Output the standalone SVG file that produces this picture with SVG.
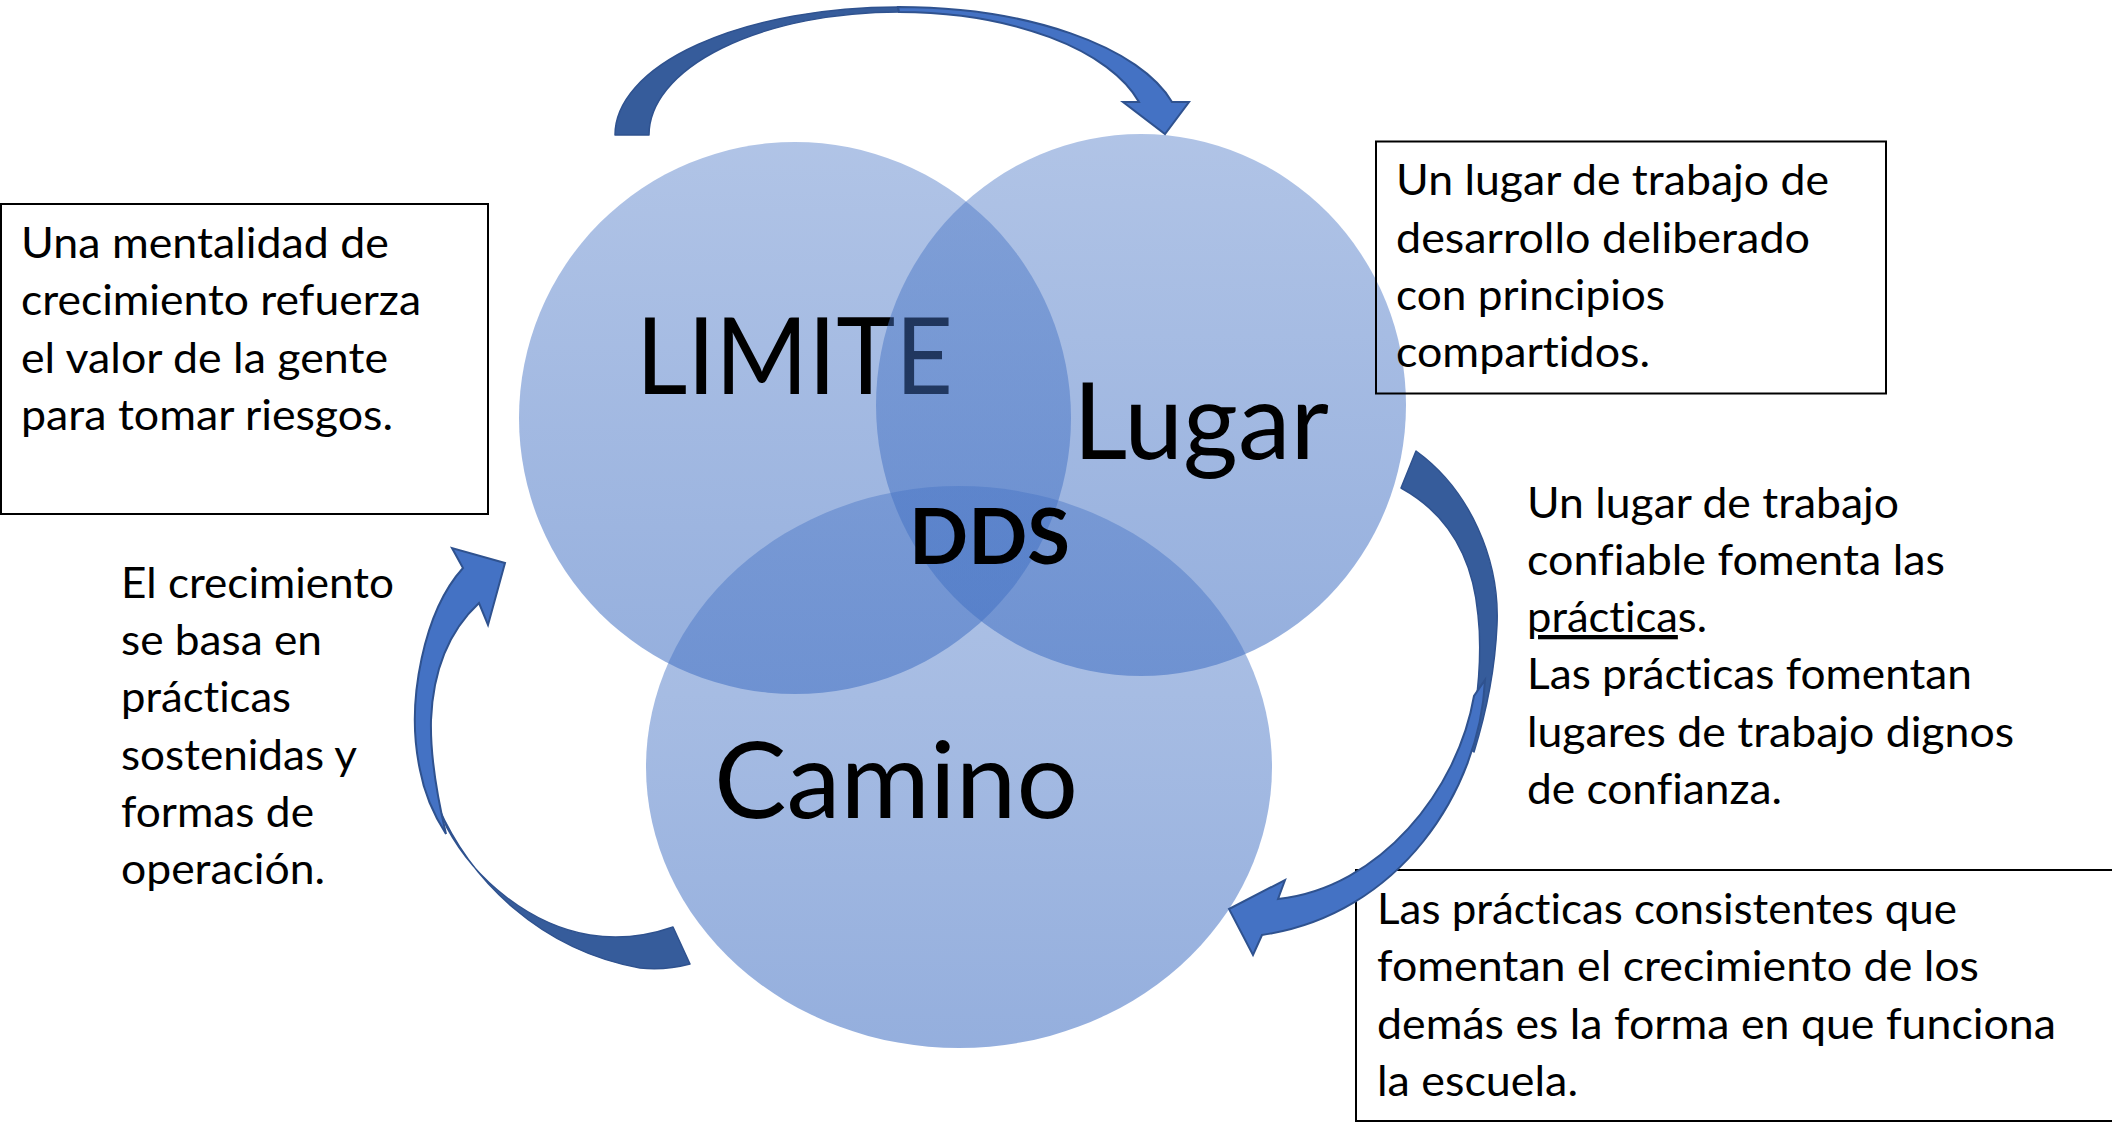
<svg xmlns="http://www.w3.org/2000/svg" width="2112" height="1124" viewBox="0 0 2112 1124">
<defs>
<linearGradient id="venn" x1="0" y1="0" x2="0" y2="1">
<stop offset="0" stop-color="#4472C4" stop-opacity="0.42"/>
<stop offset="1" stop-color="#4472C4" stop-opacity="0.57"/>
</linearGradient>
<style>
text{font-variant-ligatures:none;font-feature-settings:"liga" 0,"clig" 0}
.venn{fill:url(#venn);stroke:none}
.big{font-family:Lato,"Liberation Sans",sans-serif;font-size:106px;fill:#000}
.dds{font-family:Lato,"Liberation Sans",sans-serif;font-size:77px;font-weight:bold;fill:#000}
.t{font-family:Lato,"Liberation Sans",sans-serif;font-size:43px;fill:#000}
.box{fill:none;stroke:#000;stroke-width:2}
.back{fill:#365C9B;stroke:#2F528F;stroke-width:1.5;stroke-linejoin:round}
.front{fill:#4472C4;stroke:#2F528F;stroke-width:2;stroke-linejoin:miter}
</style>
</defs>
<rect width="2112" height="1124" fill="#fff"/>
<g id="node-limite">
<ellipse class="venn" cx="795" cy="418" rx="276" ry="276"/>
<text class="big" x="636" y="394" textLength="317" lengthAdjust="spacingAndGlyphs">LIMITE</text>
</g>
<g id="node-lugar">
<ellipse class="venn" cx="1141" cy="405" rx="265" ry="271"/>
<text class="big" x="1073" y="459" textLength="256" lengthAdjust="spacingAndGlyphs">Lugar</text>
</g>
<g id="node-camino">
<ellipse class="venn" cx="959" cy="767" rx="313" ry="281"/>
<text class="big" x="714" y="818" textLength="364" lengthAdjust="spacingAndGlyphs">Camino</text>
</g>
<g id="node-dds">
<text class="dds" x="909" y="564" textLength="161" lengthAdjust="spacingAndGlyphs">DDS</text>
</g>
<g id="node-mentalidad">
<rect class="box" x="1" y="204" width="487" height="310"/>
<text class="t" x="21" y="258" textLength="368" lengthAdjust="spacingAndGlyphs">Una mentalidad de</text>
<text class="t" x="21" y="315" textLength="400" lengthAdjust="spacingAndGlyphs">crecimiento refuerza</text>
<text class="t" x="21" y="373" textLength="367" lengthAdjust="spacingAndGlyphs">el valor de la gente</text>
<text class="t" x="21" y="430" textLength="372" lengthAdjust="spacingAndGlyphs">para tomar riesgos.</text>
</g>
<g id="node-lugar-trabajo">
<rect class="box" x="1376" y="141.5" width="510" height="252"/>
<text class="t" x="1396" y="195" textLength="433" lengthAdjust="spacingAndGlyphs">Un lugar de trabajo de</text>
<text class="t" x="1396" y="253" textLength="414" lengthAdjust="spacingAndGlyphs">desarrollo deliberado</text>
<text class="t" x="1396" y="310" textLength="269" lengthAdjust="spacingAndGlyphs">con principios</text>
<text class="t" x="1396" y="367" textLength="254" lengthAdjust="spacingAndGlyphs">compartidos.</text>
</g>
<g id="node-confiable">
<text class="t" x="1527" y="518" textLength="372" lengthAdjust="spacingAndGlyphs">Un lugar de trabajo</text>
<text class="t" x="1527" y="575" textLength="418" lengthAdjust="spacingAndGlyphs">confiable fomenta las</text>
<text class="t" x="1527" y="632" textLength="180" lengthAdjust="spacingAndGlyphs"><tspan text-decoration="underline">práctica</tspan>s.</text>
<text class="t" x="1527" y="689" textLength="445" lengthAdjust="spacingAndGlyphs">Las prácticas fomentan</text>
<text class="t" x="1527" y="747" textLength="487" lengthAdjust="spacingAndGlyphs">lugares de trabajo dignos</text>
<text class="t" x="1527" y="804" textLength="255" lengthAdjust="spacingAndGlyphs">de confianza.</text>
</g>
<g id="node-escuela">
<rect class="box" x="1356" y="870" width="780" height="251"/>
<text class="t" x="1377" y="924" textLength="580" lengthAdjust="spacingAndGlyphs">Las prácticas consistentes que</text>
<text class="t" x="1377" y="981" textLength="602" lengthAdjust="spacingAndGlyphs">fomentan el crecimiento de los</text>
<text class="t" x="1377" y="1039" textLength="679" lengthAdjust="spacingAndGlyphs">demás es la forma en que funciona</text>
<text class="t" x="1377" y="1096" textLength="201" lengthAdjust="spacingAndGlyphs">la escuela.</text>
</g>
<g id="node-crecimiento">
<text class="t" x="121" y="598" textLength="273" lengthAdjust="spacingAndGlyphs">El crecimiento</text>
<text class="t" x="121" y="655" textLength="201" lengthAdjust="spacingAndGlyphs">se basa en</text>
<text class="t" x="121" y="712" textLength="170" lengthAdjust="spacingAndGlyphs">prácticas</text>
<text class="t" x="121" y="770" textLength="236" lengthAdjust="spacingAndGlyphs">sostenidas y</text>
<text class="t" x="121" y="827" textLength="193" lengthAdjust="spacingAndGlyphs">formas de</text>
<text class="t" x="121" y="884" textLength="204" lengthAdjust="spacingAndGlyphs">operación.</text>
</g>
<g id="connectors">
<g id="arrow-top">
<path class="back" d="M615,135 A283,128 0 0 1 898,7 L899,12 A250,123 0 0 0 649,135 Z"/>
<path class="front" d="M898,7 A283,128 0 0 1 1172,102 L1189,102 L1165,134 L1123,102 L1139,102 A250,123 0 0 0 899,12 Z"/>
</g>
<g id="arrow-right">
<path class="back" d="M1416,451 C1470,490 1500,560 1497,625 C1495,670 1487,710 1474,752 L1468,748 C1479,700 1482,650 1478,615 C1473,560 1450,515 1401,488 Z"/>
<path class="front" d="M1485,680 C1480,790 1400,915 1262,935 L1253,955 L1229,909 L1285,880 L1278,899 C1380,888 1458,790 1474,696 Z"/>
</g>
<g id="arrow-left">
<path class="back" d="M438,806 C470,880 540,950 640,968 C660,970 675,968 690,964 L673,927 C650,935 620,940 590,935 C530,925 475,880 447,828 Z"/>
<path class="front" d="M463,568 C425,610 405,700 420,770 C424,792 432,812 446,834 C438,800 430,760 431,720 C433,670 450,630 479,603 L488,625 L505,563 L452,548 Z"/>
</g>
</g>
</svg>
